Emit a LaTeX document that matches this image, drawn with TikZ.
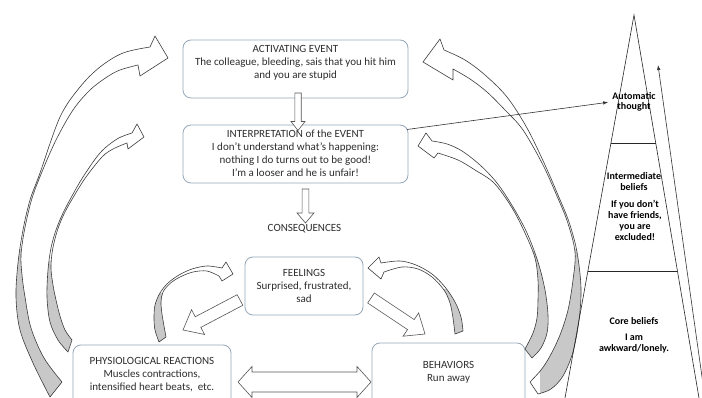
\documentclass[tikz,border=0pt]{standalone}
\usepackage{fontspec}
\setmainfont{Carlito}
\usetikzlibrary{calc,arrows.meta}
\definecolor{boxline}{RGB}{150,168,186}
\definecolor{arrline}{RGB}{60,60,60}
\definecolor{arrgray}{RGB}{200,200,200}
\definecolor{blockline}{RGB}{85,85,85}
\definecolor{txt}{RGB}{45,45,45}
\tikzset{
  box/.style={draw=boxline, line width=0.8pt, fill=white, rounded corners=8pt, inner sep=0pt},
  boxtxt/.style={font=\fontsize{11}{13}\selectfont, text=txt, align=center, inner sep=0pt},
  pyrtxt/.style={font=\fontsize{10}{11}\selectfont\bfseries, align=center, inner sep=0pt},
  blockarr/.style={draw=blockline, fill=white, line width=0.6pt, line join=miter},
  pyr/.style={draw=black!85, line width=0.6pt},
  thinarr/.style={draw=black!80, line width=0.6pt, -{Latex[length=5pt,width=3.5pt]}}
}
\newcommand\blockarrow[5]{%
  \coordinate (bab) at ($(#2)!#5!(#1)$);
  \filldraw[blockarr] ($(#1)!#3!90:(#2)$) -- ($(bab)!#3!90:(#2)$) -- ($(bab)!#4!90:(#2)$) -- (#2) -- ($(bab)!#4!-90:(#2)$) -- ($(bab)!#3!-90:(#2)$) -- ($(#1)!#3!-90:(#2)$) -- cycle;}
\newcommand\curvedarrow[2]{%
  \fill[white] #1;
  \begin{scope}\clip #2; \fill[arrgray] #1; \end{scope}
  \draw[arrline, line width=0.6pt, line join=round] #1;}
% outer left
\newcommand\cpathA{plot[smooth,tension=0.55] coordinates {(50,397) (33,363) (20,330) (16,297) (18,263) (23,230) (30,200) (40,173) (60,117) (80,87) (100,67) (123,53) (150,47)} -- (155,36) -- (168,58) -- (140,76) -- plot[smooth,tension=0.55] coordinates {(138,65) (120,70) (107,77) (90,90) (73,110) (56,140) (41.5,173) (31.5,200) (24.5,230) (21,255) (22,275) (25,297) (31,328) (44,358) (62,382)} -- cycle}
% inner left
\newcommand\cpathB{plot[smooth,tension=0.55] coordinates {(68,352) (58,340) (50,322) (47,297) (48,270) (51,248) (56,230) (63,213) (72,196) (83,177) (100,153) (117,139) (132,133)} -- (137,124) -- (144,137) -- (128,149) -- plot[smooth,tension=0.55] coordinates {(127,143) (113,149) (102,157) (86,177) (74,196) (64.5,213) (57.5,230) (52.5,250) (51,268) (53,285) (56,300) (60,316) (65,330) (72,340)} -- cycle}
% small left
\newcommand\cpathC{plot[smooth,tension=0.55] coordinates {(159,342) (155,330) (154,318) (155,305) (160,293) (168,283) (179,275) (192,269) (207,266) (222,268)} -- (226,262) -- (233,274) -- (222,281) -- plot[smooth,tension=0.55] coordinates {(219,276) (207,271) (193,272) (180,277) (170,283.5) (163,292) (161,302) (162,314) (164,326) (166,337)} -- cycle}
% small right
\newcommand\cpathD{plot[smooth,tension=0.55] coordinates {(463,331) (461,317) (455,302) (445,287) (432,274) (416,265) (400,261) (381,263)} -- (379,257) -- (368,268) -- (381,279) -- plot[smooth,tension=0.55] coordinates {(384,272) (402,267) (418,269) (432,277) (444,290) (450,303) (453,318) (455,334)} -- cycle}
% inner right
\newcommand\cpathE{plot[smooth,tension=0.55] coordinates {(532,358) (541,348) (547,333) (548,315) (545,290) (538,262) (527,233) (513,207) (497,183) (480,165) (462,151) (447,144) (432,141)} -- (426,133) -- (418,146) -- (434,158) -- plot[smooth,tension=0.55] coordinates {(438,153) (458,160) (475,170) (494,183) (511.5,207) (525,233) (535,258) (538,280) (538,300) (537,318) (533,333) (525,349)} -- cycle}
% outer right
\newcommand\cpathF{plot[smooth,tension=0.55] coordinates {(538,394) (551,389) (563,376) (573,352) (579,320) (581,288) (577,252) (569,222) (558,195) (545,165) (527,128) (507,97) (485,75) (465,60) (444,50)} -- (440,39) -- (423,62) -- (453,80) -- plot[smooth,tension=0.55] coordinates {(453,69) (470,79) (487,92) (505,110) (523,130) (543,165) (556.5,195) (567.5,222) (575,252) (573,280) (568,310) (560,335) (550,356) (541,370) (530,382)} -- cycle}
\begin{document}
\begin{tikzpicture}[x=1pt,y=-1pt]
\useasboundingbox (0,0) rectangle (702,398);
\clip (0,0) rectangle (702,398);
\fill[white] (0,0) rectangle (702,398);

% curved arrows
\curvedarrow{\cpathA}{(0,250) rectangle (80,398)}
\curvedarrow{\cpathB}{(0,262) rectangle (90,398)}
\curvedarrow{\cpathC}{(140,294) rectangle (175,350)}
\curvedarrow{\cpathD}{(435,290) rectangle (470,345)}
\curvedarrow{\cpathE}{(515,252) rectangle (560,365)}
\curvedarrow{\cpathF}{(540,250) rectangle (600,398)}

% boxes
\node[box, minimum width=225pt, minimum height=58pt] (act) at (295.5,69) {};
\node[box, minimum width=225pt, minimum height=58pt] (interp) at (295.5,154) {};
\node[box, minimum width=118pt, minimum height=58pt] (feel) at (304,286) {};
\node[box, minimum width=158pt, minimum height=62pt] (phys) at (152,376) {};
\node[box, minimum width=153pt, minimum height=64pt] (behav) at (448.5,375) {};

% straight block arrows
\coordinate (da1t) at (298,93);  \coordinate (da1h) at (298,130.5);
\blockarrow{da1t}{da1h}{3.2pt}{7pt}{9pt}
\coordinate (da2t) at (305.5,189); \coordinate (da2h) at (305.5,223);
\blockarrow{da2t}{da2h}{3.4pt}{8.5pt}{10pt}
\coordinate (dlt) at (240,300); \coordinate (dlh) at (183,330);
\blockarrow{dlt}{dlh}{6pt}{14pt}{17pt}
\coordinate (drt) at (371,298); \coordinate (drh) at (425,334);
\blockarrow{drt}{drh}{6pt}{14pt}{17pt}
\filldraw[blockarr] (238,382) -- (252,366.5) -- (252,372) -- (357,372) -- (357,366.5) -- (371,382) -- (357,397.5) -- (357,392) -- (252,392) -- (252,397.5) -- cycle;

% box texts
\node[boxtxt, anchor=north] (actT) at (295.5,44.9) {ACTIVATING EVENT\\The colleague, bleeding, sais that you hit him\\and you are stupid};
\node[boxtxt, anchor=north] (interpT) at (295.5,129.8) {INTERPRETATION of the EVENT\\I don’t understand what’s happening:\\nothing I do turns out to be good!\\I’m a looser and he is unfair!};
\node[boxtxt, anchor=base] (conseq) at (304.5,231.5) {CONSEQUENCES};
\node[boxtxt, anchor=north] (feelT) at (304,268.9) {FEELINGS\\Surprised, frustrated,\\sad};
\node[boxtxt, anchor=north] (physT) at (152,356.9) {PHYSIOLOGICAL REACTIONS\\Muscles contractions,\\intensified heart beats,\ \ etc.};
\node[boxtxt, anchor=north] (behavT) at (448.5,360.9) {BEHAVIORS\\Run away};

% pyramid
\coordinate (apex) at (634,15);
\coordinate (pbl) at (565,398);
\coordinate (pbr) at (699,398);
\draw[pyr] (pbl) -- (apex) -- (pbr);
\draw[pyr] ($(apex)!0.3342!(pbl)$) -- ($(apex)!0.3342!(pbr)$);
\draw[pyr] ($(apex)!0.6684!(pbl)$) -- ($(apex)!0.6684!(pbr)$);
\coordinate (pyrfoot) at (705,398);
\coordinate (pyrtop) at (658,65);
\draw[thinarr] (pyrfoot) -- (pyrtop);

\node[pyrtxt, font=\fontsize{10}{10}\selectfont\bfseries, anchor=north] (autoT) at (634,92.7) {Automatic\\thought};
\node[pyrtxt, anchor=north] (interT) at (634,172.3) {Intermediate\\beliefs};
\node[pyrtxt, anchor=north] (ifT) at (635,200.5) {If you don’t\\have friends,\\you are\\excluded!};
\node[pyrtxt, anchor=base] (coreT) at (634,324.3) {Core beliefs};
\node[pyrtxt, anchor=north] (amT) at (634,333.6) {I am\\awkward/lonely.};

% thin arrow
\coordinate (interpout) at (407,129.5);
\draw[thinarr] (interpout) -- ([xshift=-4pt]autoT.west);
\end{tikzpicture}
\end{document}
